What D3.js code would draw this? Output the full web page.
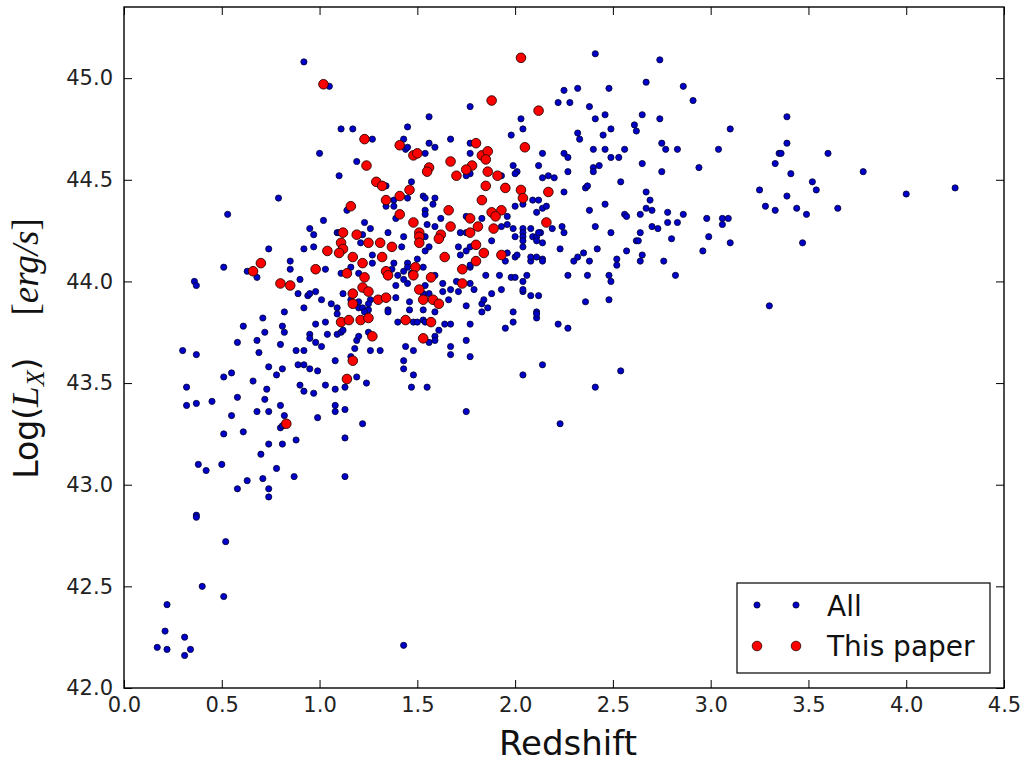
<!DOCTYPE html>
<html>
<head>
<meta charset="utf-8">
<script src="https://cdn.jsdelivr.net/npm/d3@7"></script>
<style>
  html, body { margin: 0; padding: 0; background: #ffffff; }
  svg { display: block; }
  text { font-family: "DejaVu Sans", sans-serif; }
</style>
</head>
<body>
<svg id="chart" width="1023" height="762"></svg>
<script>
// ---- data ----
const xTicks = [0.0, 0.5, 1.0, 1.5, 2.0, 2.5, 3.0, 3.5, 4.0, 4.5];
const yTicks = [42.0, 42.5, 43.0, 43.5, 44.0, 44.5, 45.0];
const legendLabels = ["All", "This paper"];

// [redshift, log Lx]  — full sample
const allPoints = [
[0.92,45.08],[1.05,44.96],[1.11,44.75],[1.17,44.75],[1.27,44.70],[1.45,44.76],[1.43,44.70],[1.44,44.65],[1.45,44.66],[1.00,44.63],[1.19,44.59],[1.10,44.52],[1.47,44.49],[1.34,44.47],[1.45,44.41],[1.38,44.40],[1.34,44.37],[1.38,44.37],[0.79,44.41],[0.53,44.33],[1.14,44.35],[1.02,44.30],[1.23,44.29],[1.26,44.26],[1.39,44.31],[1.35,44.24],[0.95,44.26],[0.97,44.23],[1.09,44.24],[1.10,44.24],[1.22,44.23],
[2.41,45.12],[2.74,45.09],[2.67,44.98],[2.86,44.96],[2.91,44.89],[2.25,44.94],[2.32,44.95],[2.48,44.95],[2.22,44.88],[2.28,44.88],[2.38,44.86],[1.77,44.86],[2.41,44.80],[2.46,44.82],[2.65,44.82],[2.74,44.80],[1.56,44.81],[2.03,44.80],[2.04,44.75],[2.61,44.77],[2.62,44.74],[2.49,44.75],[2.45,44.72],[1.98,44.72],[2.32,44.73],[2.33,44.70],[1.67,44.70],[1.56,44.68],[1.59,44.66],[1.77,44.68],[2.40,44.65],[2.46,44.65],[2.56,44.65],[2.75,44.68],[2.77,44.65],[2.83,44.65],[3.04,44.65],[2.14,44.63],[1.54,44.63],[1.77,44.63],[2.25,44.63],[2.27,44.61],[2.49,44.61],[2.53,44.61],[2.65,44.58],[2.94,44.56],[2.75,44.54],[1.99,44.57],[2.01,44.54],[2.00,44.53],[2.12,44.57],[2.27,44.54],[2.40,44.56],[2.40,44.54],[2.43,44.57],[2.14,44.51],[2.17,44.52],[2.20,44.51],[2.54,44.49],[1.77,44.53],[1.75,44.52],[1.78,44.57],[1.93,44.52],[1.53,44.42],[1.54,44.41],[2.25,44.44],[2.36,44.46],[2.37,44.47],[2.67,44.44],[2.46,44.38],[2.69,44.40],[1.59,44.41],[1.58,44.38],[2.00,44.37],[2.04,44.38],[2.09,44.40],[2.12,44.40],[2.11,44.34],[2.14,44.36],[2.16,44.37],[2.38,44.35],[2.56,44.33],[2.57,44.32],[2.64,44.33],[2.67,44.36],[2.70,44.35],[2.78,44.34],[2.86,44.33],[2.98,44.31],[2.78,44.29],[2.83,44.29],[1.54,44.35],[1.54,44.33],[1.62,44.31],[1.75,44.32],[1.83,44.31],[1.96,44.32],[1.55,44.28],[1.59,44.27],[1.72,44.24],[1.75,44.24],[1.93,44.27],[1.96,44.28],[1.99,44.26],[2.04,44.26],[2.08,44.26],[2.13,44.24],[2.19,44.26],[2.24,44.27],[2.25,44.24],[2.41,44.27],[2.49,44.24],[2.64,44.24],[2.70,44.27],[2.73,44.26],
[3.10,44.75],[3.39,44.81],[3.39,44.68],[3.35,44.63],[3.36,44.63],[3.60,44.63],[3.33,44.58],[3.78,44.54],[3.41,44.53],[3.52,44.49],[3.54,44.45],[3.25,44.45],[4.00,44.43],[4.25,44.46],[3.39,44.42],[3.28,44.37],[3.33,44.35],[3.44,44.36],[3.49,44.33],[3.65,44.36],[3.06,44.31],[3.09,44.31],[3.06,44.28],[3.10,44.19],[3.47,44.19],[3.30,43.88],
[2.99,44.22],[2.96,44.15],[2.80,44.21],[2.62,44.20],[2.63,44.20],[2.57,44.15],[2.65,44.13],[2.64,44.10],[2.76,44.10],[2.82,44.03],[2.52,44.11],[2.52,44.08],[2.48,44.03],[2.49,44.00],[2.42,44.16],[2.35,44.14],[2.32,44.12],[2.30,44.10],[2.38,44.10],[2.23,44.16],[2.27,44.03],[2.37,44.03],[2.36,43.90],[2.48,43.91],[2.22,43.79],[2.27,43.77],[2.14,43.59],[2.54,43.56],[2.04,43.54],[2.41,43.48],[2.23,43.30],[1.75,43.36],[1.55,43.48],[1.77,43.63],[1.67,43.68],[1.67,43.64],[1.75,43.71],[1.95,43.77],[1.99,43.80],[2.11,43.85],[2.11,43.82],[2.11,43.84],[1.99,43.85],[1.77,43.79],[1.59,43.73],[1.59,43.71],[1.61,43.76],[1.56,43.70],[1.64,43.79],[1.67,43.79],[1.53,43.86],[1.59,43.85],[1.75,43.88],[1.83,43.85],[1.83,43.89],[1.86,43.87],[1.84,43.91],[2.08,43.93],[2.12,43.93],[2.04,43.95],[2.04,43.96],[1.93,43.96],[1.88,43.94],[1.79,43.96],[1.71,43.95],[1.67,43.96],[1.63,43.95],[1.63,43.99],[1.66,43.91],[1.85,44.03],[1.92,44.03],[1.98,44.02],[2.00,44.02],[2.06,44.03],[2.04,44.00],[1.70,44.00],[1.77,43.99],[1.77,44.07],[1.77,44.08],[1.95,44.10],[1.96,44.14],[2.00,44.12],[2.01,44.13],[2.08,44.10],[2.08,44.12],[2.11,44.12],[2.14,44.11],[2.14,44.10],[2.00,44.22],[2.04,44.24],[2.04,44.22],[2.04,44.20],[2.04,44.17],[2.09,44.22],[2.11,44.22],[2.11,44.20],[2.14,44.19],[2.12,44.24],[1.71,44.17],[1.72,44.13],[1.75,44.15],[1.77,44.17],[1.88,44.20],[1.54,44.22],[1.56,44.17],[1.54,44.15],[1.53,44.07],[1.59,44.03],[1.54,43.98],[1.56,43.94],[1.53,43.94],[1.53,43.81],[1.54,43.80],
[0.74,44.16],[0.92,44.16],[0.97,44.17],[1.21,44.19],[1.27,44.13],[1.42,44.17],[1.43,44.22],[0.85,44.10],[0.85,44.06],[1.03,44.06],[1.11,44.04],[1.16,44.07],[1.20,44.04],[1.27,44.09],[1.38,44.09],[1.37,44.06],[1.40,44.03],[1.43,44.05],[1.45,44.09],[1.45,44.07],[1.47,44.04],[1.50,44.11],[0.68,44.02],[0.90,44.01],[0.89,43.94],[0.94,43.93],[0.95,43.94],[0.98,43.95],[1.01,43.91],[1.06,43.89],[1.09,43.87],[1.12,43.94],[0.92,43.87],[0.82,43.85],[0.71,43.82],[0.81,43.78],[0.82,43.75],[0.72,43.75],[0.68,43.71],[0.69,43.65],[0.80,43.69],[0.98,43.79],[1.03,43.80],[1.09,43.84],[1.16,43.91],[1.20,43.90],[1.20,43.87],[1.22,43.87],[1.25,43.86],[1.23,43.85],[1.26,43.91],[1.25,43.89],[1.35,43.86],[1.35,43.85],[1.39,43.92],[1.39,43.98],[1.45,43.99],[1.43,44.01],[1.46,43.90],[1.46,43.86],[1.40,43.80],[1.48,43.80],[1.50,43.80],[1.04,43.74],[1.09,43.74],[1.11,43.75],[1.12,43.76],[0.95,43.74],[0.95,43.72],[0.98,43.70],[1.01,43.68],[0.92,43.66],[0.88,43.66],[1.19,43.71],[1.20,43.73],[1.18,43.67],[1.25,43.75],[1.26,43.66],[1.31,43.66],[1.44,43.68],[1.48,43.66],[0.74,43.58],[0.78,43.54],[0.81,43.57],[0.89,43.59],[0.92,43.59],[0.95,43.57],[0.99,43.56],[1.08,43.61],[1.16,43.63],[1.43,43.61],[1.43,43.57],[1.48,43.54],[0.66,43.51],[0.73,43.47],[0.72,43.42],[0.80,43.39],[0.90,43.49],[0.92,43.46],[0.97,43.45],[1.03,43.49],[1.08,43.47],[1.13,43.48],[1.19,43.53],[1.24,43.50],[1.08,43.39],[1.08,43.36],[1.13,43.37],[0.99,43.33],[0.68,43.36],[0.74,43.36],[0.82,43.34],[1.47,43.48],
[0.36,44.00],[0.37,43.98],[0.51,44.07],[0.63,44.05],[0.30,43.66],[0.37,43.64],[0.58,43.70],[0.61,43.78],[0.32,43.48],[0.32,43.39],[0.37,43.40],[0.45,43.41],[0.51,43.53],[0.55,43.55],[0.58,43.43],[0.55,43.34],[0.51,43.25],[0.61,43.26],[0.38,43.10],[0.50,43.10],[0.70,43.15],[0.74,43.20],[0.81,43.20],[0.88,43.22],[0.80,43.28],[0.81,43.29],[1.13,43.23],[1.22,43.30],
[0.42,43.07],[0.78,43.08],[0.58,42.98],[0.63,43.02],[0.71,43.03],[0.74,42.98],[0.74,42.94],[0.87,43.04],[1.13,43.04],[0.37,42.85],[0.37,42.84],[0.52,42.72],[0.40,42.50],[0.51,42.45],[0.22,42.41],[0.21,42.28],[0.31,42.25],[0.17,42.20],[0.22,42.19],[0.34,42.19],[0.31,42.16],[1.43,42.21]
];

// [redshift, log Lx]  — this paper
const paperPoints = [
[1.88,44.89],[2.12,44.84],[1.23,44.70],[1.41,44.67],[1.80,44.68],[2.05,44.66],[1.48,44.62],[1.50,44.63],[1.83,44.62],[1.86,44.64],[1.85,44.60],[1.24,44.57],[1.67,44.59],[1.56,44.56],[1.55,44.54],[1.78,44.57],[1.75,44.55],[1.70,44.52],[1.86,44.54],[1.91,44.52],[1.29,44.49],[1.32,44.47],[1.46,44.45],[1.85,44.47],[1.95,44.46],[2.03,44.45],[2.17,44.44],[1.41,44.42],[1.34,44.40],[1.83,44.40],[2.04,44.41],[1.16,44.37],[1.66,44.35],[1.41,44.33],[1.88,44.34],[1.93,44.35],[1.90,44.32],[1.48,44.29],[1.77,44.31],[2.16,44.29],[1.67,44.27],[1.81,44.27],[1.89,44.26],[1.51,44.24],[1.51,44.22],[1.62,44.23],[1.61,44.21],[1.77,44.24],[1.12,44.24],[1.19,44.23],[1.51,44.19],[1.31,44.19],[1.25,44.19],[1.37,44.17],[1.11,44.19],[1.12,44.16],[1.04,44.15],[1.10,44.14],[1.80,44.18],[1.84,44.14],[1.93,44.13],[1.64,44.12],[1.80,44.10],[1.17,44.12],[1.32,44.12],[1.22,44.09],[0.70,44.09],[0.66,44.05],[0.98,44.06],[1.49,44.07],[1.34,44.05],[1.35,44.03],[1.14,44.04],[1.23,44.02],[1.48,44.03],[1.57,44.02],[1.73,44.06],[0.80,43.99],[0.85,43.98],[1.73,43.99],[1.51,43.96],[1.22,43.97],[1.25,43.95],[1.17,43.94],[1.30,43.91],[1.34,43.92],[1.53,43.91],[1.58,43.91],[1.61,43.89],[1.17,43.89],[1.11,43.80],[1.15,43.81],[1.21,43.81],[1.25,43.82],[1.44,43.81],[1.57,43.80],[1.27,43.73],[1.53,43.72],[1.17,43.61],[1.14,43.52],[1.02,44.97],[2.03,45.10],[0.83,43.30]
];

// ---- layout ----
const plotL = 124, plotR = 1004, plotT = 7, plotB = 688;

const svg = d3.select("#chart");

const x = d3.scaleLinear().domain([0, 4.5]).range([plotL, plotR]);
const y = d3.scaleLinear().domain([42, 45.35]).range([plotB, plotT]);

// points
const blueFill = "#0000c8", blueEdge = "#000030";
const redFill = "#ff0000", redEdge = "#2a0000";
svg.append("g").selectAll("circle").data(allPoints).join("circle")
  .attr("cx", d => x(d[0])).attr("cy", d => y(d[1])).attr("r", 3.1)
  .attr("fill", blueFill).attr("stroke", blueEdge).attr("stroke-width", 0.8);

svg.append("g").selectAll("circle").data(paperPoints).join("circle")
  .attr("cx", d => x(d[0])).attr("cy", d => y(d[1])).attr("r", 4.8)
  .attr("fill", redFill).attr("stroke", redEdge).attr("stroke-width", 0.9);

// axes (ticks inside, on all four sides)
const fmt = d3.format(".1f");
const gx = svg.append("g").attr("transform", `translate(0,${plotB})`)
  .call(d3.axisBottom(x).tickValues(xTicks).tickFormat(fmt).tickSize(-8).tickPadding(9));
const gxt = svg.append("g").attr("transform", `translate(0,${plotT})`)
  .call(d3.axisTop(x).tickValues(xTicks).tickFormat("").tickSize(-8));
const gy = svg.append("g").attr("transform", `translate(${plotL},0)`)
  .call(d3.axisLeft(y).tickValues(yTicks).tickFormat(fmt).tickSize(-8).tickPadding(11));
const gyr = svg.append("g").attr("transform", `translate(${plotR},0)`)
  .call(d3.axisRight(y).tickValues(yTicks).tickFormat("").tickSize(-8));

[gx, gxt, gy, gyr].forEach(g => {
  g.select(".domain").remove();
  g.selectAll(".tick line").attr("stroke", "#000").attr("stroke-width", 1);
  g.selectAll(".tick text").attr("fill", "#222").style("font-size", "21px")
    .style("font-family", "'DejaVu Sans', sans-serif");
});

// frame
svg.append("rect").attr("x", plotL).attr("y", plotT)
  .attr("width", plotR - plotL).attr("height", plotB - plotT)
  .attr("fill", "none").attr("stroke", "#000").attr("stroke-width", 1.4);

// x label
svg.append("text").attr("x", (plotL + plotR) / 2 + 4).attr("y", 755)
  .attr("text-anchor", "middle").style("font-size", "34px").attr("fill", "#111")
  .text("Redshift");

// y label: Log(L_X)    [erg/s]
const mathFont = "'Liberation Serif', serif";
const yl = svg.append("text")
  .attr("transform", `translate(38,${(plotT + plotB) / 2 + 1}) rotate(-90)`)
  .attr("text-anchor", "middle").style("font-size", "33px").attr("fill", "#111");
yl.append("tspan").text("Log(");
yl.append("tspan").style("font-family", mathFont).style("font-style", "italic")
  .style("font-size", "37px").text("L");
yl.append("tspan").style("font-family", mathFont).style("font-style", "italic")
  .style("font-size", "26px").attr("dy", 6).text("X");
yl.append("tspan").attr("dy", -6).text(")");
yl.append("tspan").text("\u00a0\u00a0\u00a0\u00a0");
yl.append("tspan").style("font-family", mathFont).style("font-size", "37px").text("[");
yl.append("tspan").style("font-family", mathFont).style("font-style", "italic")
  .style("font-size", "37px").text("erg/s");
yl.append("tspan").style("font-family", mathFont).style("font-size", "37px").text("]");

// legend
const lg = svg.append("g");
lg.append("rect").attr("x", 737).attr("y", 583).attr("width", 253).attr("height", 90)
  .attr("fill", "#fff").attr("stroke", "#000").attr("stroke-width", 1.2);
const legendRows = [
  {label: legendLabels[0], r: 3.1, fill: blueFill, stroke: blueEdge, yy: 605, ty: 616},
  {label: legendLabels[1], r: 4.8, fill: redFill, stroke: redEdge, yy: 646, ty: 656}
];
legendRows.forEach(row => {
  [757, 796].forEach(cx => {
    lg.append("circle").attr("cx", cx).attr("cy", row.yy).attr("r", row.r)
      .attr("fill", row.fill).attr("stroke", row.stroke).attr("stroke-width", 0.8);
  });
  lg.append("text").attr("x", 827).attr("y", row.ty).style("font-size", "28px")
    .attr("fill", "#111").text(row.label);
});
</script>
</body>
</html>
